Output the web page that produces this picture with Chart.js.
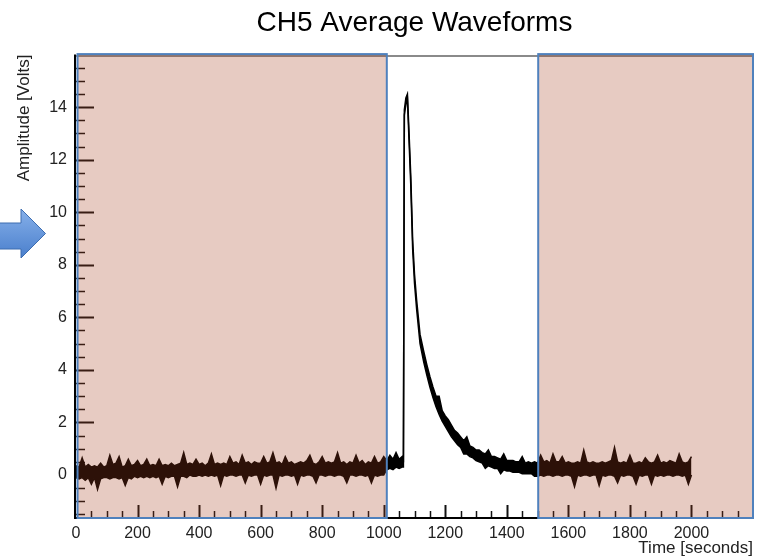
<!DOCTYPE html>
<html>
<head>
<meta charset="utf-8">
<title>CH5 Average Waveforms</title>
<script src="https://cdn.jsdelivr.net/npm/chart.js@4/dist/chart.umd.min.js"></script>
<style>
  html, body { margin: 0; padding: 0; background: #fff; }
</style>
</head>
<body>
<canvas id="waveform" width="759" height="560"></canvas>
<script>
// the averaged trace is drawn as a noise band: upper and lower edge of the
// black band read off the plot (volts), sampled every 10 s outside the pulse
const sampleStep = 10;
const preTriggerStart = 0;
const preTriggerUpper = [
  0.35, 0.3, 0.65, 0.3, 0.4, 0.3, 0.35, 0.3, 0.45, 0.3,
  0.35, 0.75, 0.4, 0.45, 0.7, 0.3, 0.35, 0.6, 0.35, 0.4,
  0.55, 0.35, 0.4, 0.6, 0.35, 0.4, 0.35, 0.6, 0.35, 0.4,
  0.35, 0.45, 0.35, 0.4, 0.45, 0.85, 0.4, 0.45, 0.4, 0.6,
  0.4, 0.45, 0.35, 0.45, 0.8, 0.4, 0.45, 0.4, 0.45, 0.4,
  0.7, 0.45, 0.5, 0.4, 0.75, 0.45, 0.5, 0.4, 0.5, 0.45,
  0.45, 0.7, 0.45, 0.5, 0.85, 0.45, 0.5, 0.4, 0.7, 0.45,
  0.5, 0.4, 0.45, 0.5, 0.45, 0.55, 0.75, 0.45, 0.4, 0.5,
  0.7, 0.45, 0.5, 0.45, 0.5, 0.85, 0.45, 0.5, 0.4, 0.5,
  0.45, 0.75, 0.45, 0.55, 0.4, 0.5, 0.45, 0.7, 0.45, 0.5,
  0.7, 0.55, 0.75, 0.6, 0.85, 0.6, 0.7
];
const preTriggerLower = [
  -0.1, -0.15, -0.1, -0.2, -0.1, -0.35, -0.1, -0.55, -0.15, -0.1,
  -0.1, -0.15, -0.1, -0.1, -0.15, -0.1, -0.4, -0.1, -0.15, -0.05,
  -0.1, -0.05, -0.1, -0.05, -0.1, -0.05, -0.1, -0.05, -0.35, -0.05,
  -0.1, -0.05, -0.05, -0.45, -0.05, -0.05, -0.1, 0.0, -0.05, -0.05,
  0.0, -0.05, 0.0, -0.05, 0.0, -0.05, 0.0, -0.4, 0.0, -0.05,
  0.0, 0.0, -0.05, 0.0, 0.0, -0.3, 0.0, -0.05, 0.0, 0.0,
  -0.35, 0.0, -0.05, 0.0, 0.0, -0.5, 0.0, -0.05, 0.0, 0.0,
  -0.05, 0.0, -0.35, 0.0, -0.05, 0.0, 0.0, -0.05, -0.3, 0.0,
  0.0, -0.05, 0.0, 0.0, -0.05, 0.0, 0.0, -0.05, -0.3, 0.0,
  0.0, -0.05, 0.0, 0.0, -0.05, 0.0, -0.3, 0.0, -0.05, 0.0,
  0.0, 0.2, 0.25, 0.2, 0.3, 0.25, 0.3
];
const pulseTimes = [
  1064, 1067, 1072, 1077, 1082, 1088, 1094, 1100, 1107, 1118, 1130, 1140,
  1150, 1160, 1170, 1180, 1190, 1200, 1210, 1220, 1230, 1240,
  1250, 1260, 1270, 1280, 1290, 1300, 1310, 1320, 1330, 1340,
  1350, 1360, 1370, 1380, 1390, 1400, 1410, 1420, 1430, 1440,
  1450, 1460, 1470, 1480, 1490
];
const pulseUpper = [
  0.6, 13.9, 14.35, 14.5, 13.1, 11.35, 8.95, 7.65, 6.65, 5.35, 4.7, 4.2,
  3.75, 3.35, 3.0, 3.0, 2.45, 2.25, 2.1, 1.9, 1.7, 1.6,
  1.45, 1.3, 1.45, 1.1, 1.05, 0.95, 0.95, 0.85, 0.8, 0.95,
  0.7, 0.7, 0.65, 0.6, 0.8, 0.55, 0.55, 0.55, 0.5, 0.5,
  0.7, 0.45, 0.5, 0.45, 0.5
];
const pulseLower = [
  0.3, 13.7, 14.1, 14.3, 12.8, 11.0, 8.6, 7.3, 6.3, 5.0, 4.3, 3.8,
  3.35, 2.95, 2.6, 2.3, 2.05, 1.85, 1.65, 1.45, 1.3, 1.15,
  1.05, 0.8, 0.8, 0.7, 0.65, 0.55, 0.5, 0.45, 0.25, 0.35,
  0.3, 0.25, 0.25, 0.05, 0.2, 0.15, 0.15, 0.1, 0.1, 0.1,
  0.05, 0.05, 0.05, 0.05, -0.05
];
const postPulseStart = 1500;
const postPulseUpper = [
  0.45, 0.75, 0.5, 0.55, 0.45, 0.8, 0.5, 0.5, 0.7, 0.45,
  0.5, 0.45, 0.45, 0.5, 0.45, 0.95, 0.5, 0.45, 0.5, 0.45,
  0.45, 0.5, 0.45, 0.5, 0.55, 1.05, 0.5, 0.45, 0.5, 0.45,
  0.75, 0.45, 0.45, 0.5, 0.45, 0.65, 0.5, 0.45, 0.5, 0.75,
  0.45, 0.5, 0.45, 0.55, 0.5, 0.45, 0.8, 0.5, 0.45, 0.5,
  0.7
];
const postPulseLower = [
  -0.05, 0.0, -0.05, 0.0, 0.0, -0.05, 0.0, 0.0, -0.05, 0.0,
  0.0, -0.05, -0.45, 0.0, -0.05, 0.0, 0.0, -0.05, 0.0, 0.0,
  -0.4, 0.0, -0.05, 0.0, 0.0, -0.05, -0.3, 0.0, -0.05, 0.0,
  0.0, -0.05, -0.35, 0.0, -0.05, 0.0, 0.0, -0.35, 0.0, -0.05,
  0.0, -0.05, 0.0, 0.0, -0.05, 0.0, 0.0, -0.05, 0.0, -0.35,
  0.0
];

const xTickLabels = [0, 200, 400, 600, 800, 1000, 1200, 1400, 1600, 1800, 2000];
const yTickLabels = [0, 2, 4, 6, 8, 10, 12, 14];
// time windows covered by the shaded boxes (seconds)
const shadeRanges = [[5, 1010], [1502, 2200]];

const times = [];
preTriggerUpper.forEach((_, i) => times.push(preTriggerStart + i * sampleStep));
times.push(...pulseTimes);
postPulseUpper.forEach((_, i) => times.push(postPulseStart + i * sampleStep));
const upperEdge = [...preTriggerUpper, ...pulseUpper, ...postPulseUpper];
const lowerEdge = [...preTriggerLower, ...pulseLower, ...postPulseLower];

const fontFamily = 'Helvetica, "Liberation Sans", Arial, sans-serif';

// ROOT style frame + inner ticks, drawn under the data
const frameTicks = {
  id: 'frameTicks',
  beforeDatasetsDraw(chart) {
    const {ctx, chartArea: a, scales: {x, y}} = chart;
    ctx.save();
    ctx.strokeStyle = '#111';
    for (let t = 50; t < 2200; t += 50) {
      const px = Math.round(x.getPixelForValue(t)) + 0.5;
      const major = t % 200 === 0;
      ctx.lineWidth = major ? 2 : 1.5;
      ctx.beginPath();
      ctx.moveTo(px, a.bottom);
      ctx.lineTo(px, a.bottom - (major ? 12 : 6));
      ctx.stroke();
    }
    for (let v = -1.5; v <= 15.5; v += 0.5) {
      const py = Math.round(y.getPixelForValue(v)) + 0.5;
      const major = v % 2 === 0;
      ctx.lineWidth = major ? 2 : 1.5;
      ctx.beginPath();
      ctx.moveTo(a.left, py);
      ctx.lineTo(a.left + (major ? 18 : 9), py);
      ctx.stroke();
    }
    ctx.lineWidth = 2;
    ctx.strokeStyle = '#000';
    ctx.beginPath();
    ctx.moveTo(a.left - 1, a.top);
    ctx.lineTo(a.left - 1, a.bottom + 1);
    ctx.lineTo(a.right, a.bottom + 1);
    ctx.stroke();
    ctx.strokeStyle = '#8a8a8a';
    ctx.beginPath();
    ctx.moveTo(a.left, a.top + 1.5);
    ctx.lineTo(a.right, a.top + 1.5);
    ctx.stroke();
    ctx.restore();
  }
};

// translucent boxes laid over the trace
const shadeBoxes = {
  id: 'shadeBoxes',
  afterDatasetsDraw(chart) {
    const {ctx, chartArea: a, scales: {x}} = chart;
    ctx.save();
    shadeRanges.forEach(([from, to]) => {
      const x0 = x.getPixelForValue(from);
      const x1 = x.getPixelForValue(to);
      ctx.fillStyle = 'rgba(168,64,30,0.27)';
      ctx.fillRect(x0, a.top, x1 - x0, a.bottom - a.top + 1);
      ctx.strokeStyle = '#4f81bd';
      ctx.lineWidth = 2;
      ctx.strokeRect(x0, a.top - 0.5, x1 - x0, a.bottom - a.top + 1.5);
    });
    ctx.restore();
  }
};

// the blue callout arrow at the left edge
const callout = {
  id: 'callout',
  afterDraw(chart) {
    const ctx = chart.ctx;
    ctx.save();
    const g = ctx.createLinearGradient(0, 209, 0, 258);
    g.addColorStop(0, '#86b0ea');
    g.addColorStop(1, '#4a7fcc');
    ctx.fillStyle = g;
    ctx.strokeStyle = '#3d6db0';
    ctx.lineWidth = 1;
    ctx.beginPath();
    ctx.moveTo(-2, 223);
    ctx.lineTo(21, 223);
    ctx.lineTo(21, 209);
    ctx.lineTo(45.5, 233.5);
    ctx.lineTo(21, 258);
    ctx.lineTo(21, 249);
    ctx.lineTo(-2, 249);
    ctx.closePath();
    ctx.fill();
    ctx.stroke();
    ctx.restore();
  }
};

new Chart(document.getElementById('waveform'), {
  type: 'line',
  data: {
    datasets: [{
      label: 'CH5 lower',
      data: times.map((t, i) => ({x: t, y: lowerEdge[i]})),
      borderColor: '#000',
      borderWidth: 1.5,
      pointRadius: 0,
      tension: 0,
      fill: false
    }, {
      label: 'CH5 upper',
      data: times.map((t, i) => ({x: t, y: upperEdge[i]})),
      borderColor: '#000',
      backgroundColor: '#000',
      borderWidth: 1.5,
      pointRadius: 0,
      tension: 0,
      fill: '-1'
    }]
  },
  options: {
    responsive: false,
    animation: false,
    layout: {padding: {left: 0, right: 6, top: 0, bottom: 0}},
    plugins: {
      legend: {display: false},
      tooltip: {enabled: false},
      title: {
        display: true,
        text: 'CH5 Average Waveforms',
        fullSize: false,
        color: '#000',
        font: {family: fontFamily, size: 28, weight: 'normal', lineHeight: 1.2},
        padding: {top: 6, bottom: 15}
      }
    },
    scales: {
      x: {
        type: 'linear',
        min: 0,
        max: 2200,
        afterFit(scale) { scale.height = 43; },
        afterBuildTicks(scale) { scale.ticks = xTickLabels.map(v => ({value: v})); },
        grid: {display: false, drawTicks: false},
        border: {display: false},
        ticks: {
          color: '#222',
          padding: 7,
          maxRotation: 0,
          autoSkip: false,
          font: {family: fontFamily, size: 16},
          callback: v => String(v)
        },
        title: {
          display: true,
          text: 'Time [seconds]',
          align: 'end',
          color: '#222',
          font: {family: fontFamily, size: 17},
          padding: {top: 0, bottom: 1}
        }
      },
      y: {
        type: 'linear',
        min: -1.6,
        max: 16,
        afterFit(scale) { scale.width = 76; },
        afterBuildTicks(scale) { scale.ticks = yTickLabels.map(v => ({value: v})); },
        grid: {display: false, drawTicks: false},
        border: {display: false},
        ticks: {
          color: '#222',
          padding: 9,
          autoSkip: false,
          font: {family: fontFamily, size: 16},
          callback: v => String(v)
        },
        title: {
          display: true,
          text: 'Amplitude [Volts]',
          align: 'end',
          color: '#222',
          font: {family: fontFamily, size: 17},
          padding: {top: 14, bottom: 0}
        }
      }
    }
  },
  plugins: [frameTicks, shadeBoxes, callout]
});
</script>
</body>
</html>
